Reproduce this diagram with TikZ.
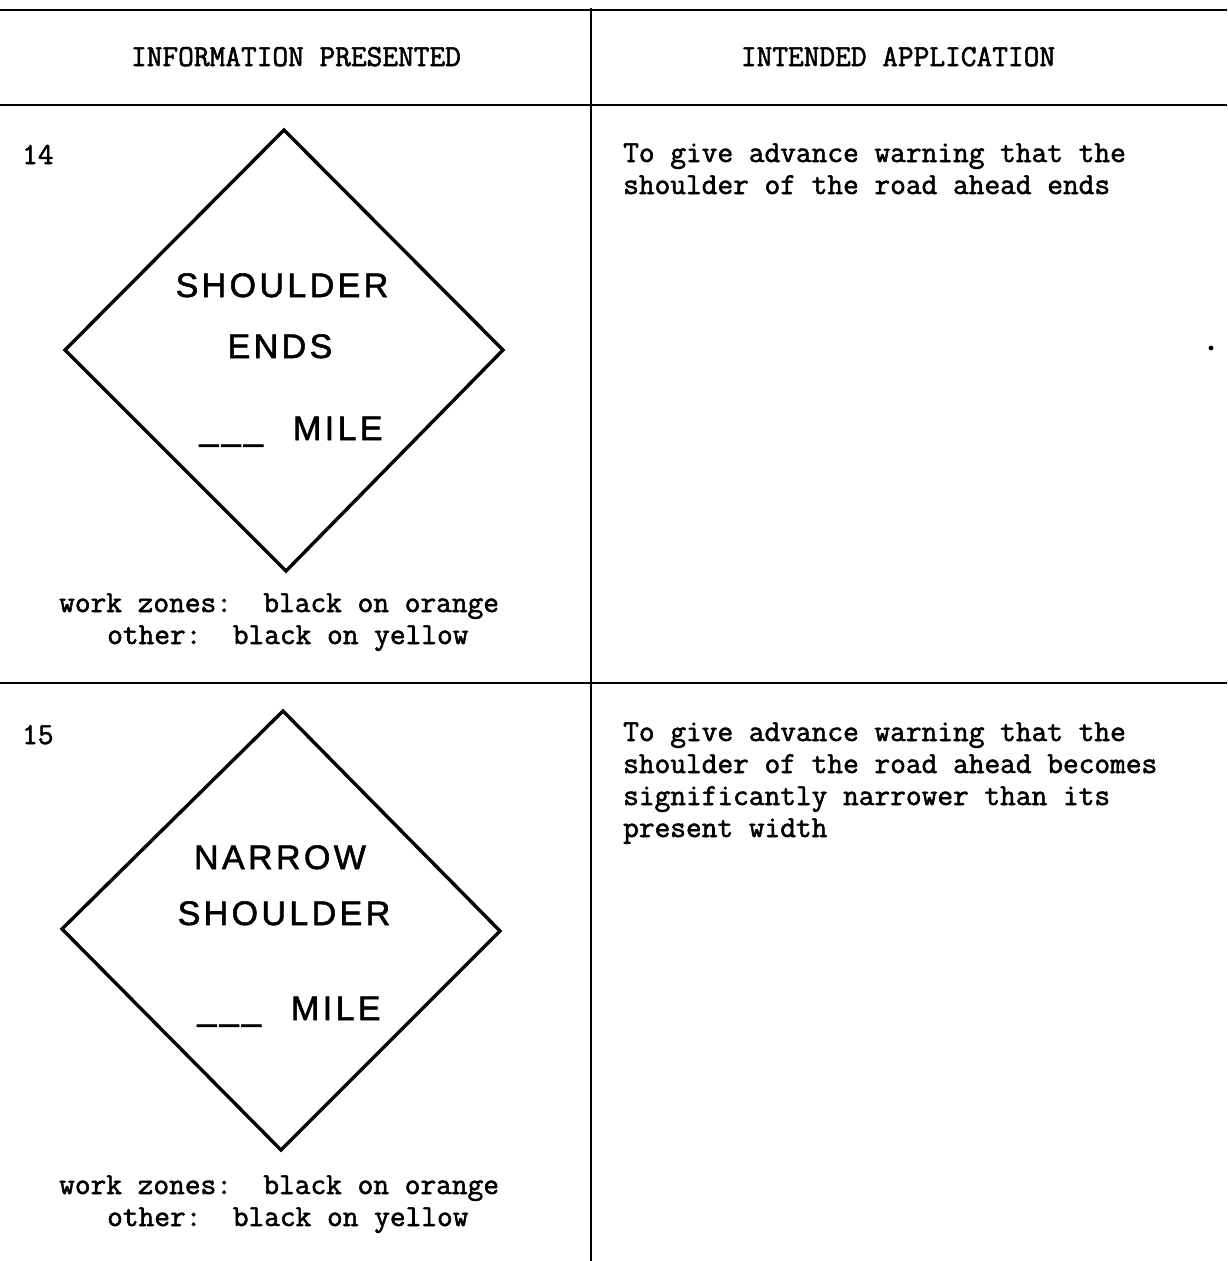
\documentclass[tikz,border=0pt]{standalone}
\usepackage{fontspec}
\newfontfamily\signfont[LetterSpace=10,FakeBold=1.6]{Liberation Sans}
\newfontfamily\typefont[FakeBold=1.8]{Latin Modern Mono}
\begin{document}
\begin{tikzpicture}[x=1pt,y=-1pt,
  rule/.style={line width=2pt, black},
  toprule/.style={line width=2.6pt, black},
  mono/.style={font=\typefont\fontsize{30.5}{32}\selectfont, inner sep=0pt},
  signtext/.style={font=\signfont\fontsize{34}{40}\selectfont, inner sep=0pt, anchor=base},
  signedge/.style={line width=3.4pt, line join=miter}]

% page frame
\fill[white] (0,0) rectangle (1227,1261);
\useasboundingbox (0,0) rectangle (1227,1261);

% table rules
\coordinate (tl) at (0,10);   \coordinate (tr) at (1227,10);
\coordinate (hl) at (0,105);  \coordinate (hr) at (1227,105);
\coordinate (rl) at (0,683);  \coordinate (rr) at (1227,683);
\coordinate (vt) at (591,8);  \coordinate (vb) at (591,1261);
\draw[toprule] (tl) -- (tr);
\draw[rule] (hl) -- (hr);
\draw[rule] (rl) -- (rr);
\draw[rule] (vt) -- (vb);

% column headings
\node[mono, anchor=base] (hdrL) at (296,66) {INFORMATION PRESENTED};
\node[mono, anchor=base] (hdrR) at (898,66) {INTENDED APPLICATION};

% ---- item 14 ----
\node[mono, anchor=base west] (num14) at (22,164) {14};
\draw[signedge] (284,130) -- (503,350) -- (286,571) -- (65,350) -- cycle;
\node[signtext] (s14a) at (282,297) {SHOULDER};
\node[signtext] (s14b) at (280,358) {ENDS};
\node[signtext] (s14c) at (291,440) {\_\_\_\hspace{30pt}MILE};
\node[mono, anchor=base west] (c14a) at (59,612) {work zones:~~black on orange};
\node[mono, anchor=base west] (c14b) at (107,644) {other:~~black on yellow};
\node[mono, anchor=base west] (a14a) at (623,162) {To give advance warning that the};
\node[mono, anchor=base west] (a14b) at (623,194) {shoulder of the road ahead ends};
\fill (1211,348) circle (2.4);

% ---- item 15 ----
\node[mono, anchor=base west] (num15) at (22,744) {15};
\draw[signedge] (283,711) -- (500,931) -- (281,1150) -- (62,929) -- cycle;
\node[signtext] (s15a) at (280,869) {NARROW};
\node[signtext] (s15b) at (284,925) {SHOULDER};
\node[signtext] (s15c) at (289,1020) {\_\_\_\hspace{30pt}MILE};
\node[mono, anchor=base west] (c15a) at (59,1194) {work zones:~~black on orange};
\node[mono, anchor=base west] (c15b) at (107,1226) {other:~~black on yellow};
\node[mono, anchor=base west] (a15a) at (623,741) {To give advance warning that the};
\node[mono, anchor=base west] (a15b) at (623,773) {shoulder of the road ahead becomes};
\node[mono, anchor=base west] (a15c) at (623,805) {significantly narrower than its};
\node[mono, anchor=base west] (a15d) at (623,837) {present width};
\end{tikzpicture}
\end{document}
